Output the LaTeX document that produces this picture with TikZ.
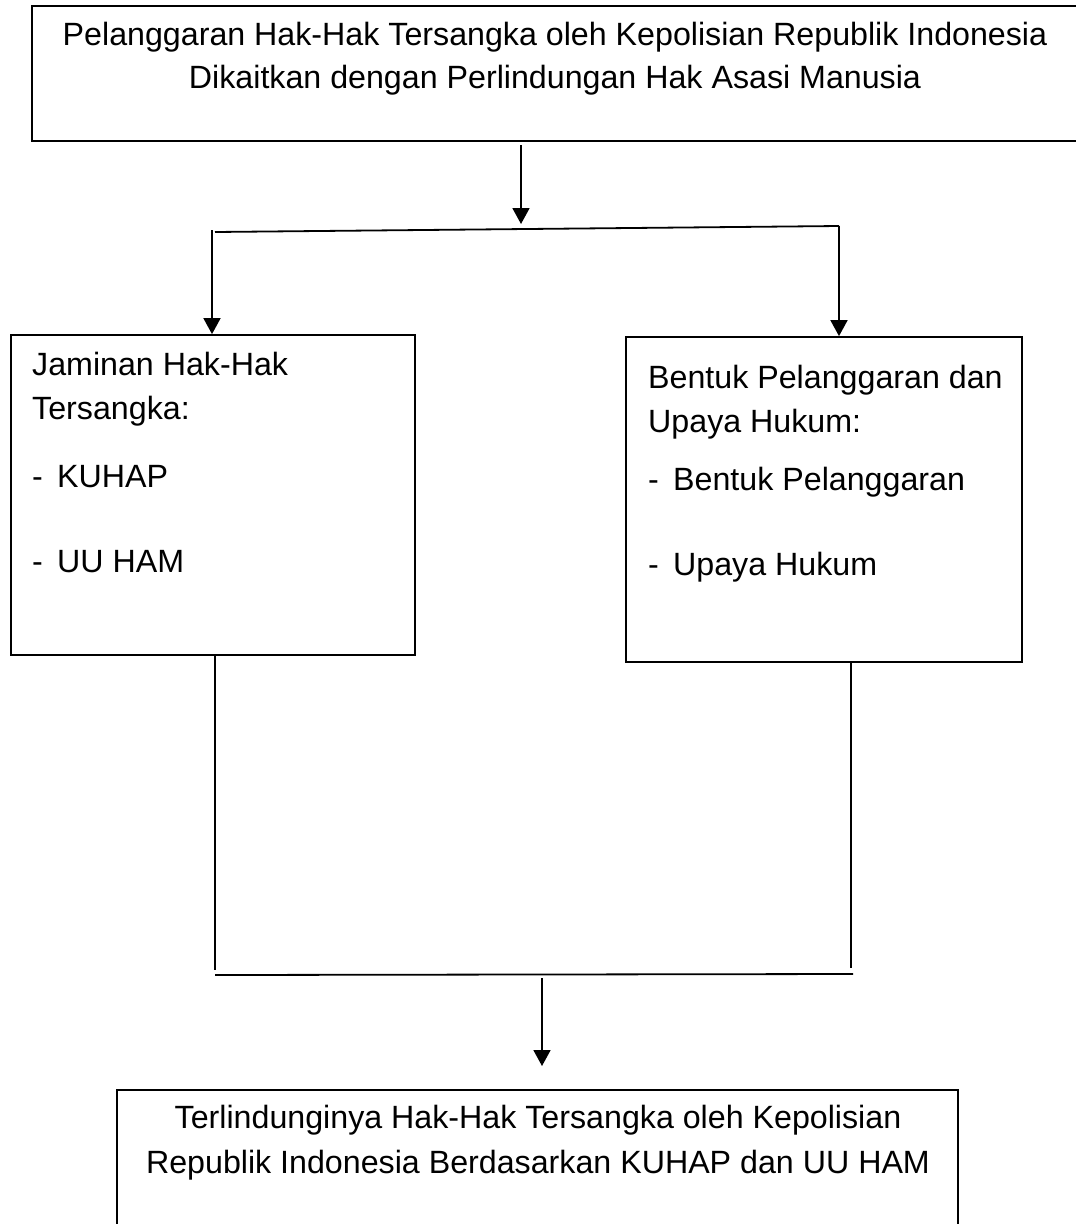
\documentclass[tikz,border=0pt]{standalone}
\usepackage{fontspec}
\setmainfont{Liberation Sans}
\usetikzlibrary{arrows.meta}
\tikzset{
  boxline/.style={draw=black, line width=1.8pt},
  conn/.style={draw=black, line width=1.8pt},
  arr/.style={conn, -{Triangle[length=16pt,width=17pt]}},
  txt/.style={inner sep=0pt, anchor=base, font=\fontsize{32.2}{38}\selectfont},
  ltxt/.style={txt, anchor=base west},
}
\newcommand{\dashitem}[1]{\makebox[25pt][l]{-}#1}
\begin{document}
\begin{tikzpicture}[x=1pt,y=-1pt]
\useasboundingbox (0,0) rectangle (1076,1224);
% boxes
\draw[boxline] (1110,6) -- (32,6) -- (32,141) -- (1110,141);
\node[boxline, inner sep=0pt, minimum width=404pt, minimum height=320pt] (lbox) at (213,495) {};
\node[boxline, inner sep=0pt, minimum width=396pt, minimum height=325pt] (rbox) at (824,499.5) {};
\draw[boxline] (117,1250) -- (117,1090) -- (958,1090) -- (958,1250);
% texts
\node[txt] (t1) at (555,45) {Pelanggaran Hak-Hak Tersangka oleh Kepolisian Republik Indonesia};
\node[txt] (t2) at (555,88) {Dikaitkan dengan Perlindungan Hak Asasi Manusia};
\node[ltxt] (l1) at (32,375) {Jaminan Hak-Hak};
\node[ltxt] (l2) at (32,419) {Tersangka:};
\node[ltxt] (l3) at (32,487) {\dashitem{KUHAP}};
\node[ltxt] (l4) at (32,572) {\dashitem{UU HAM}};
\node[ltxt] (r1) at (648,388) {Bentuk Pelanggaran dan};
\node[ltxt] (r2) at (648,432) {Upaya Hukum:};
\node[ltxt] (r3) at (648,490) {\dashitem{Bentuk Pelanggaran}};
\node[ltxt] (r4) at (648,575) {\dashitem{Upaya Hukum}};
\node[txt] (b1) at (538,1128) {Terlindunginya Hak-Hak Tersangka oleh Kepolisian};
\node[txt] (b2) at (538,1173) {Republik Indonesia Berdasarkan KUHAP dan UU HAM};
% connectors top
\coordinate (a0) at (521,145);
\coordinate (j0) at (521,224);
\coordinate (hl) at (215,232);
\coordinate (hr) at (839,226);
\coordinate (la) at (212,230);
\draw[arr] (a0) -- (j0);
\draw[conn] (hl) -- (hr);
\draw[arr] (la) -- (la |- lbox.north);
\draw[arr] (hr) -- (hr |- rbox.north);
% connectors bottom
\coordinate (lv0) at (215,656);
\coordinate (lv1) at (215,970);
\coordinate (rv0) at (851,663);
\coordinate (rv1) at (851,968);
\coordinate (bl) at (215,975);
\coordinate (br) at (853,974);
\draw[conn] (lv0) -- (lv1);
\draw[conn] (rv0) -- (rv1);
\draw[conn] (bl) -- (br);
\coordinate (ba) at (542,978);
\coordinate (bb) at (542,1066);
\draw[arr] (ba) -- (bb);
\end{tikzpicture}
\end{document}
